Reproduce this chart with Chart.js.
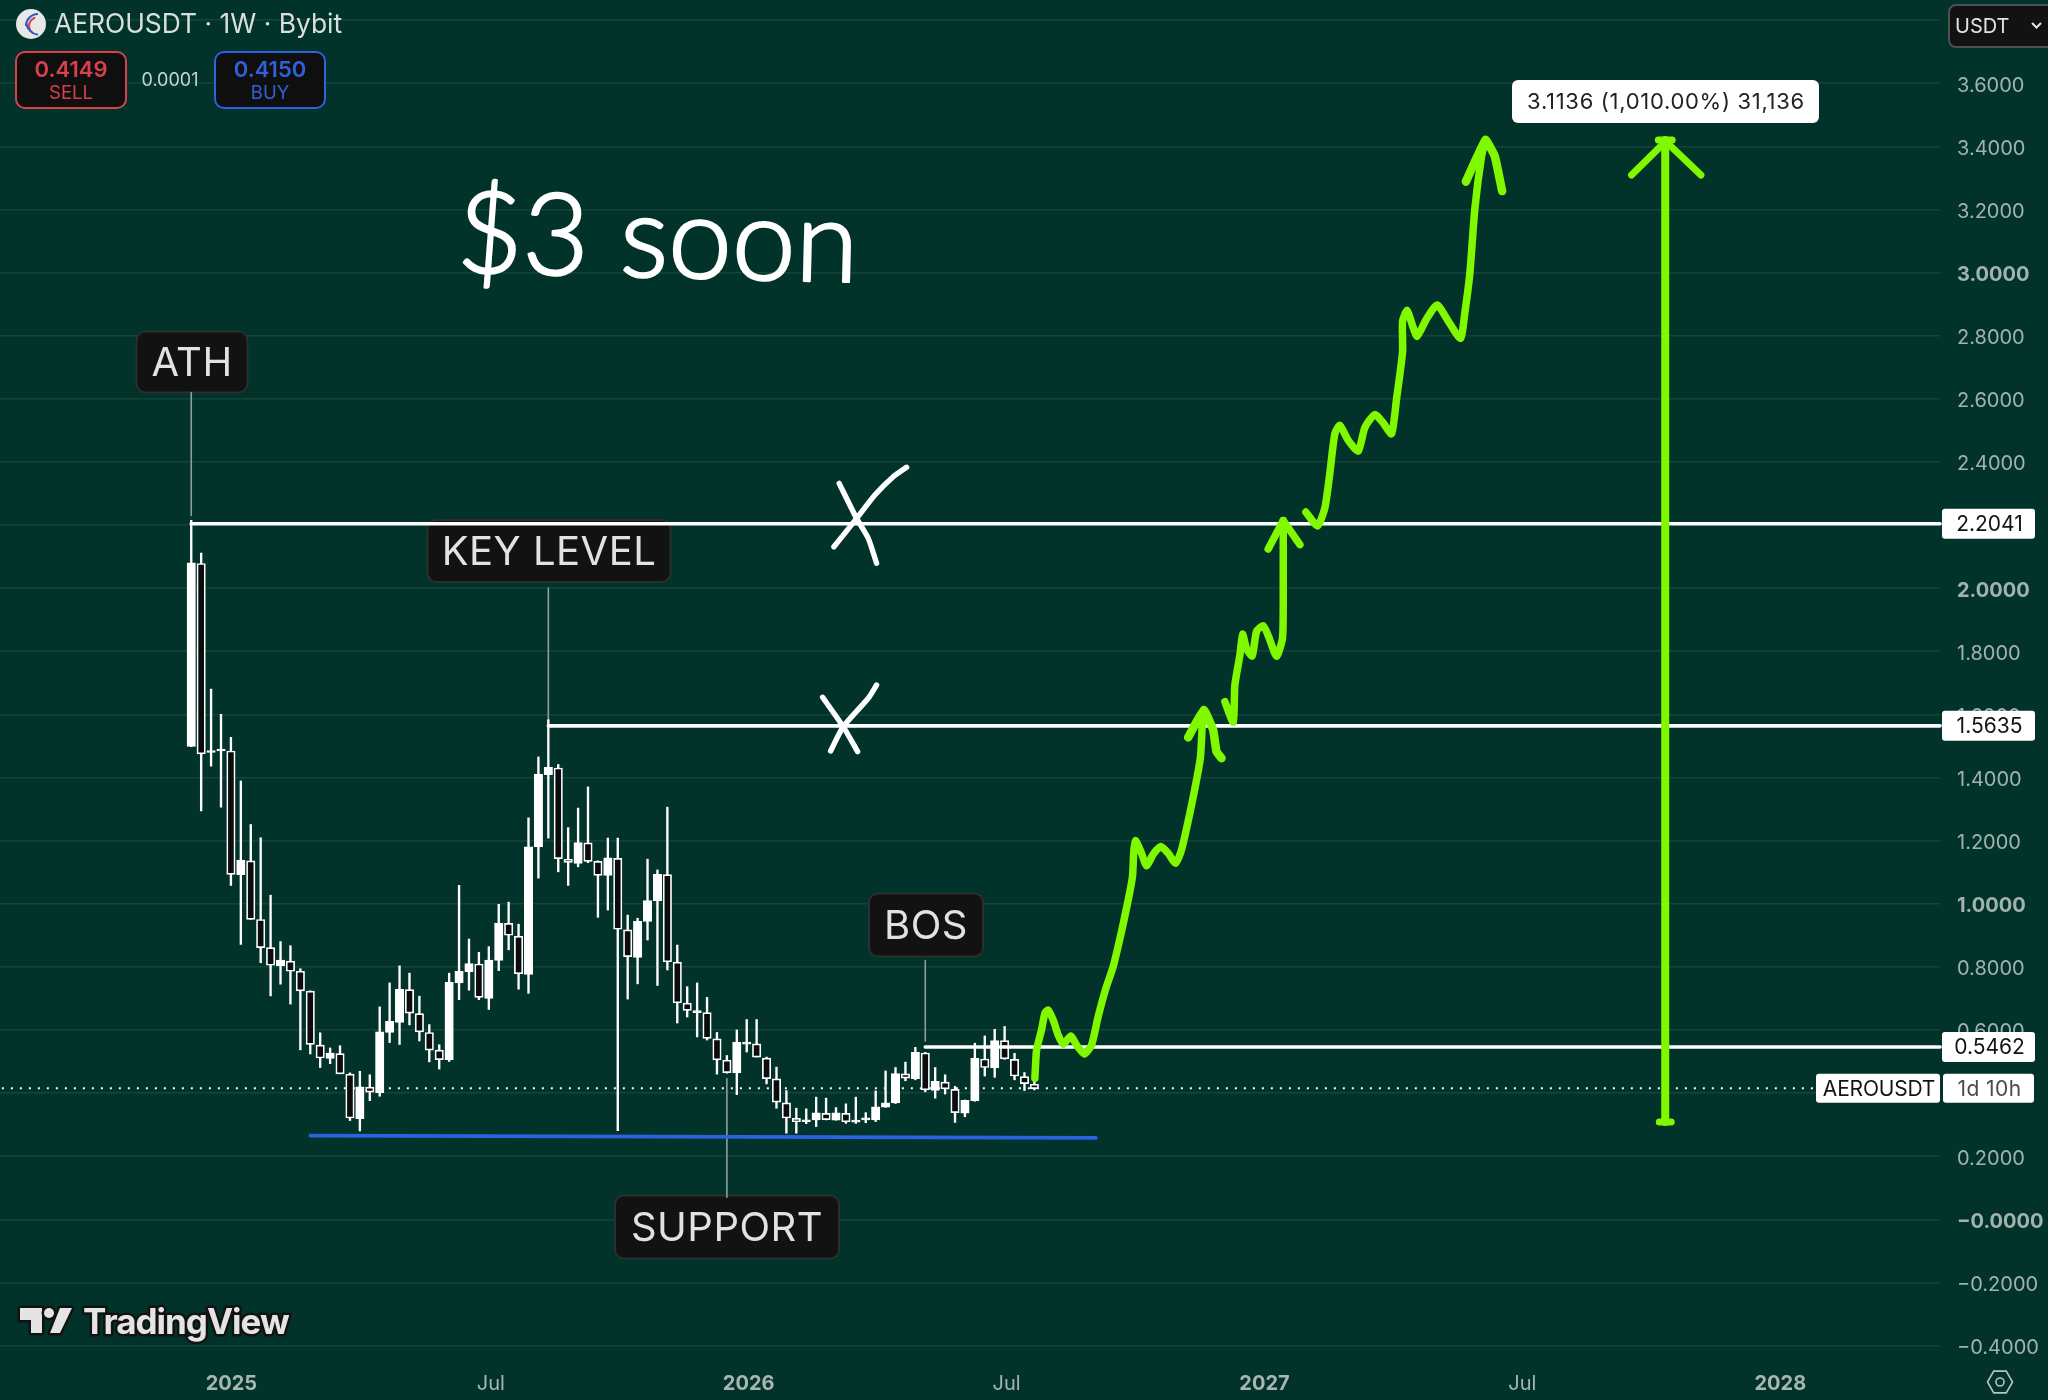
<!DOCTYPE html>
<html>
<head>
<meta charset="utf-8">
<title>AEROUSDT 1W</title>
<script src="https://cdn.jsdelivr.net/npm/chart.js@4"></script>
<style>
  html, body { margin: 0; padding: 0; background: #02332b; }
  #wrap { width: 2048px; height: 1400px; position: relative; }
</style>
</head>
<body>
<div id="wrap"><canvas id="chart"></canvas></div>
<script>
// weekly candles
const opens = [1.498,2.078,1.479,1.484,1.484,1.092,1.136,0.950,0.861,0.803,0.818,0.786,0.723,0.552,0.510,0.525,0.460,0.319,0.419,0.401,0.592,0.624,0.728,0.652,0.592,0.536,0.506,0.749,0.785,0.809,0.700,0.820,0.938,0.897,0.776,1.180,1.409,1.430,1.141,1.128,1.193,1.134,1.090,1.144,0.917,0.830,0.944,1.009,1.092,0.815,0.685,0.655,0.655,0.572,0.504,0.464,0.555,0.556,0.511,0.445,0.369,0.320,0.309,0.315,0.336,0.314,0.336,0.308,0.315,0.315,0.355,0.369,0.461,0.446,0.527,0.408,0.435,0.412,0.336,0.376,0.508,0.480,0.566,0.507,0.452,0.428];
const closes = [2.080,1.475,1.484,1.490,1.093,1.138,0.950,0.861,0.805,0.821,0.786,0.724,0.554,0.511,0.527,0.461,0.321,0.420,0.403,0.594,0.627,0.729,0.653,0.594,0.536,0.506,0.751,0.786,0.810,0.703,0.821,0.939,0.900,0.778,1.180,1.411,1.432,1.143,1.131,1.194,1.134,1.090,1.145,0.919,0.832,0.944,1.010,1.093,0.816,0.686,0.662,0.661,0.573,0.505,0.465,0.561,0.561,0.514,0.446,0.371,0.321,0.309,0.315,0.337,0.316,0.337,0.309,0.314,0.318,0.356,0.369,0.462,0.447,0.529,0.410,0.437,0.413,0.338,0.377,0.510,0.481,0.566,0.508,0.454,0.430,0.414];
const highs = [2.215,2.111,1.680,1.600,1.527,1.389,1.251,1.209,1.027,0.880,0.867,0.794,0.724,0.591,0.543,0.550,0.464,0.469,0.458,0.673,0.749,0.803,0.780,0.707,0.617,0.553,0.780,1.058,0.888,0.846,0.864,0.998,1.005,0.935,1.272,1.465,1.583,1.441,1.241,1.303,1.370,1.136,1.208,1.208,0.964,0.954,1.141,1.107,1.306,0.869,0.737,0.749,0.703,0.592,0.519,0.600,0.633,0.633,0.514,0.482,0.408,0.352,0.350,0.387,0.384,0.354,0.366,0.387,0.338,0.407,0.470,0.481,0.498,0.545,0.529,0.481,0.458,0.421,0.378,0.558,0.581,0.602,0.611,0.526,0.465,0.463];
const lows = [1.498,1.294,1.436,1.306,1.058,0.871,0.950,0.813,0.708,0.745,0.682,0.537,0.524,0.481,0.493,0.461,0.313,0.280,0.376,0.390,0.560,0.554,0.616,0.565,0.499,0.476,0.500,0.696,0.726,0.696,0.665,0.788,0.854,0.729,0.716,1.081,1.208,1.101,1.058,1.117,1.130,0.957,0.980,0.281,0.698,0.746,0.885,0.741,0.790,0.622,0.641,0.578,0.568,0.460,0.463,0.395,0.530,0.514,0.429,0.352,0.273,0.273,0.303,0.294,0.315,0.314,0.304,0.304,0.306,0.310,0.355,0.367,0.439,0.442,0.404,0.384,0.397,0.307,0.325,0.374,0.454,0.450,0.507,0.442,0.408,0.410];

const yTickValues = [3.8,3.6,3.4,3.2,3.0,2.8,2.6,2.4,2.2,2.0,1.8,1.6,1.4,1.2,1.0,0.8,0.6,0.4,0.2,0,-0.2,-0.4];
const yTickLabels = ['3.8000','3.6000','3.4000','3.2000','3.0000','2.8000','2.6000','2.4000','2.2000','2.0000','1.8000','1.6000','1.4000','1.2000','1.0000','0.8000','0.6000','0.4000','0.2000','\u22120.0000','\u22120.2000','\u22120.4000'];
const xTickWeeks = [4.05,30.2,56.2,82.2,108.2,134.2,160.2];
const xTickLabels = ['2025','Jul','2026','Jul','2027','Jul','2028'];

const keyLevels = [2.2041,1.5635,0.5462];
const keyLevelStarts = [0,36,74];
const lastPrice = 0.4149;

// support line, week / price
const supportLine = [[12,0.265],[91.2,0.258]];

// hand drawn green path, week / price
const pathOne = [[85.05,0.447],[85.22,0.536],[85.72,0.600],[86.06,0.653],[86.39,0.663],[86.90,0.631],[87.40,0.584],[87.90,0.555],[88.68,0.581],[89.25,0.552],[90.02,0.524],[90.76,0.552],[91.43,0.642],[92.21,0.732],[92.94,0.800],[93.78,0.911],[94.46,1.012],[94.89,1.086],[95.03,1.170],[95.23,1.200],[95.80,1.160],[96.31,1.120],[96.98,1.157],[97.75,1.181],[98.49,1.160],[99.23,1.128],[99.83,1.170],[100.67,1.286],[101.35,1.392],[101.75,1.466],[101.95,1.582],[102.08,1.614]];
const headOne = [[100.50,1.527],[102.08,1.614],[103.03,1.550],[103.36,1.482],[103.87,1.461]];
const pathTwo = [[104.21,1.640],[105.05,1.575],[105.21,1.692],[105.72,1.788],[105.99,1.854],[106.39,1.808],[106.96,1.785],[107.40,1.863],[108.07,1.881],[108.57,1.850],[109.41,1.784],[110.02,1.843],[110.09,2.035],[110.09,2.214]];
const headTwo = [[108.57,2.124],[110.09,2.214],[111.77,2.138]];
const pathThree = [[112.37,2.241],[113.55,2.197],[114.29,2.255],[114.79,2.365],[115.29,2.489],[115.80,2.516],[116.64,2.468],[117.65,2.434],[118.32,2.509],[119.33,2.550],[120.17,2.523],[121.01,2.489],[121.51,2.599],[122.12,2.750],[122.12,2.846],[122.59,2.880],[123.12,2.832],[123.59,2.798],[124.53,2.853],[125.61,2.897],[126.72,2.846],[127.96,2.791],[128.40,2.873],[128.90,2.997],[129.41,3.203],[130.08,3.368],[130.48,3.420]];
const headThree = [[128.50,3.288],[130.48,3.420],[131.42,3.368],[132.16,3.258]];
const targetArrow = [[148.6,0.308],[148.6,3.42]];
const targetHead = [[145.2,3.309],[148.3,3.405],[149.0,3.405],[152.2,3.309]];
const targetTop = [[147.9,3.42],[149.3,3.42]];
const targetBase = [[148.0,0.308],[149.2,0.308]];

// white crosses over the levels
const crossOneA = [[65.32,2.332],[67.08,2.221],[68.25,2.158],[69.09,2.079]];
const crossOneB = [[72.12,2.383],[70.77,2.353],[68.92,2.295],[67.08,2.221],[64.79,2.131]];
const crossTwoA = [[63.65,1.654],[65.73,1.561],[67.18,1.482]];
const crossTwoB = [[69.09,1.693],[68.25,1.651],[65.73,1.561],[64.46,1.484]];

// label leaders: week, from price, to price
const leaders = [[0,2.23,2.62],[36,1.575,2.0],[74,0.565,0.82],[54,0.445,0.07]];

const GREEN = '#80f800';
const FONT = 'Inter, "Noto Sans", sans-serif';

const toXY = pts => pts.map(p => ({ x: p[0], y: p[1] }));

function stroke(points, color, width, tension, order) {
  return {
    type: 'scatter', showLine: true, data: toXY(points),
    borderColor: color, backgroundColor: color, borderWidth: width,
    pointRadius: 0, pointHoverRadius: 0, tension: tension,
    borderCapStyle: 'round', borderJoinStyle: 'round', order: order, clip: false,
  };
}

const wicks = {
  type: 'bar', data: highs.map((h, i) => ({ x: i, y: [lows[i], h] })),
  backgroundColor: '#ffffff', borderWidth: 0, barThickness: 1.7, grouped: false, order: 5,
};
const bodies = {
  type: 'bar', data: opens.map((o, i) => ({ x: i, y: [o, closes[i]] })),
  backgroundColor: opens.map((o, i) => closes[i] >= o ? '#ffffff' : '#0c0c0c'),
  borderColor: '#ffffff', borderWidth: 1.7, borderSkipped: false,
  barThickness: 8.4, minBarLength: 2, grouped: false, order: 4,
};

const leaderSets = leaders.map(l => stroke([[l[0], l[1]], [l[0], l[2]]], '#8d9f9b', 1.6, 0, 6));
const levelSets = keyLevels.map((v, i) => stroke([[keyLevelStarts[i], v], [176.3, v]], '#ffffff', 3.6, 0, 3));
const lastLine = stroke([[-20, lastPrice], [176.3, lastPrice]], '#ffffff', 2, 0, 7);
lastLine.borderDash = [2, 7];
lastLine.borderCapStyle = 'butt';

function label(ctx, text, cx, cy, w, h) {
  ctx.fillStyle = '#121212';
  ctx.strokeStyle = '#2b2f2e';
  ctx.lineWidth = 2;
  ctx.beginPath();
  ctx.roundRect(cx - w / 2, cy - h / 2, w, h, 9);
  ctx.fill();
  ctx.stroke();
  ctx.fillStyle = '#e2e2e2';
  ctx.font = '40px ' + FONT;
  ctx.letterSpacing = '0.5px';
  ctx.textAlign = 'center';
  ctx.textBaseline = 'middle';
  ctx.fillText(text, cx, cy + 2);
  ctx.letterSpacing = '0px';
}

function tag(ctx, text, x, cy, w, h, color) {
  ctx.fillStyle = '#ffffff';
  ctx.beginPath();
  ctx.roundRect(x, cy - h / 2, w, h, 3);
  ctx.fill();
  ctx.fillStyle = color || '#131313';
  ctx.font = '21px ' + FONT;
  ctx.textAlign = 'center';
  ctx.textBaseline = 'middle';
  ctx.fillText(text, x + w / 2 + 1, cy + 1);
}

function quoteBox(ctx, x, color, price, side) {
  ctx.fillStyle = '#0f0f0f';
  ctx.strokeStyle = color;
  ctx.lineWidth = 2;
  ctx.beginPath();
  ctx.roundRect(x, 52, 110, 56, 9);
  ctx.fill();
  ctx.stroke();
  ctx.fillStyle = color;
  ctx.textAlign = 'center';
  ctx.textBaseline = 'middle';
  ctx.font = '600 22px ' + FONT;
  ctx.fillText(price, x + 55, 70);
  ctx.font = '18.5px ' + FONT;
  ctx.fillText(side, x + 55, 93);
}

const overlay = {
  id: 'overlay',
  beforeDatasetsDraw(chart) {
    const ctx = chart.ctx;
    ctx.save();
    // annotation labels sit under the level lines
    label(ctx, 'ATH', 192, 362, 111, 61);
    label(ctx, 'KEY LEVEL', 549, 551, 243, 62);
    label(ctx, 'BOS', 926, 925, 114, 63);
    label(ctx, 'SUPPORT', 727, 1227, 224, 63);
    ctx.restore();
  },
  afterDraw(chart) {
    const ctx = chart.ctx, y = chart.scales.y;
    ctx.save();

    // handwritten note
    ctx.save();
    ctx.translate(456, 272);
    ctx.rotate(0.025);
    ctx.fillStyle = '#ffffff';
    ctx.strokeStyle = '#ffffff';
    ctx.lineWidth = 2.5;
    ctx.lineJoin = 'round';
    ctx.font = '300 114px Lato, ' + FONT;
    ctx.textAlign = 'left';
    ctx.textBaseline = 'alphabetic';
    ctx.fillText('$3 soon', 0, 0);
    ctx.strokeText('$3 soon', 0, 0);
    ctx.restore();

    // price tags on the axis
    tag(ctx, '2.2041', 1942, y.getPixelForValue(keyLevels[0]), 93, 30);
    tag(ctx, '1.5635', 1942, y.getPixelForValue(keyLevels[1]), 93, 30);
    tag(ctx, '0.5462', 1942, y.getPixelForValue(keyLevels[2]), 93, 30);
    const py = y.getPixelForValue(lastPrice);
    ctx.save();
    ctx.letterSpacing = '-0.2px';
    tag(ctx, 'AEROUSDT', 1816, py, 124, 29);
    ctx.letterSpacing = '0.4px';
    tag(ctx, '1d 10h', 1943, py, 91, 29, '#4a4a4a');
    ctx.restore();

    // measure box
    ctx.fillStyle = '#ffffff';
    ctx.beginPath();
    ctx.roundRect(1512, 80, 307, 43, 6);
    ctx.fill();
    ctx.fillStyle = '#222222';
    ctx.font = '22px ' + FONT;
    ctx.letterSpacing = '0.7px';
    ctx.textAlign = 'center';
    ctx.textBaseline = 'middle';
    ctx.fillText('3.1136 (1,010.00%) 31,136', 1666, 102);
    ctx.letterSpacing = '0px';

    // header
    ctx.fillStyle = '#e6e8e6';
    ctx.beginPath();
    ctx.arc(31, 24, 15, 0, Math.PI * 2);
    ctx.fill();
    ctx.lineWidth = 2;
    ctx.strokeStyle = '#2a55c8';
    ctx.beginPath();
    ctx.arc(38, 26, 12, Math.PI * 1.0, Math.PI * 1.5);
    ctx.stroke();
    ctx.strokeStyle = '#d8404a';
    ctx.beginPath();
    ctx.arc(38, 26, 9, Math.PI * 0.7, Math.PI * 1.4);
    ctx.stroke();
    ctx.strokeStyle = '#2a55c8';
    ctx.beginPath();
    ctx.arc(40, 21, 14, Math.PI * 0.55, Math.PI * 0.95);
    ctx.stroke();

    ctx.fillStyle = '#d9dfdd';
    ctx.font = '26.4px ' + FONT;
    ctx.textAlign = 'left';
    ctx.textBaseline = 'middle';
    ctx.fillText('AEROUSDT \u00b7 1W \u00b7 Bybit', 54, 25);
    quoteBox(ctx, 16, '#d8414c', '0.4149', 'SELL');
    quoteBox(ctx, 215, '#3160dd', '0.4150', 'BUY');
    ctx.fillStyle = '#c9d3d0';
    ctx.font = '18px ' + FONT;
    ctx.textAlign = 'center';
    ctx.fillText('0.0001', 170, 81);

    // currency button
    ctx.fillStyle = '#121212';
    ctx.strokeStyle = '#4d5150';
    ctx.lineWidth = 2;
    ctx.beginPath();
    ctx.roundRect(1949, 5, 110, 42, 7);
    ctx.fill();
    ctx.stroke();
    ctx.fillStyle = '#e2e4e3';
    ctx.font = '20px ' + FONT;
    ctx.textAlign = 'left';
    ctx.fillText('USDT', 1955, 27);
    ctx.strokeStyle = '#e2e4e3';
    ctx.beginPath();
    ctx.moveTo(2032, 23);
    ctx.lineTo(2036.5, 27.5);
    ctx.lineTo(2041, 23);
    ctx.stroke();

    // settings hexagon
    ctx.strokeStyle = '#b7c3c0';
    ctx.lineWidth = 1.6;
    ctx.beginPath();
    for (let i = 0; i < 6; i++) {
      const a = i * Math.PI / 3;
      const hx = 2000 + 12.5 * Math.cos(a), hy = 1382 + 12.5 * Math.sin(a);
      if (i === 0) ctx.moveTo(hx, hy); else ctx.lineTo(hx, hy);
    }
    ctx.closePath();
    ctx.stroke();
    ctx.beginPath();
    ctx.arc(2000, 1382, 4, 0, Math.PI * 2);
    ctx.stroke();

    // TradingView logo
    ctx.lineJoin = 'round';
    ctx.strokeStyle = '#121212';
    ctx.fillStyle = '#e4e4e4';
    ctx.lineWidth = 5;
    ctx.beginPath();
    ctx.moveTo(20, 1308); ctx.lineTo(42, 1308); ctx.lineTo(42, 1333); ctx.lineTo(31, 1333); ctx.lineTo(31, 1320); ctx.lineTo(20, 1320); ctx.closePath();
    ctx.moveTo(50, 1333); ctx.lineTo(60, 1308); ctx.lineTo(72, 1308); ctx.lineTo(60, 1333); ctx.closePath();
    ctx.stroke();
    ctx.fill();
    ctx.beginPath();
    ctx.arc(49, 1313, 5, 0, Math.PI * 2);
    ctx.stroke();
    ctx.fill();
    ctx.font = '700 35px ' + FONT;
    ctx.textAlign = 'left';
    ctx.textBaseline = 'alphabetic';
    ctx.letterSpacing = '-1px';
    ctx.strokeText('TradingView', 83, 1334);
    ctx.fillText('TradingView', 83, 1334);
    ctx.restore();
  },
};

new Chart(document.getElementById('chart').getContext('2d'), {
  type: 'bar',
  data: {
    datasets: [
      wicks, bodies, lastLine, ...leaderSets, ...levelSets,
      stroke(supportLine, '#2b62e0', 3.6, 0, 3),
      stroke(crossOneA, '#ffffff', 5.4, 0.2, 2),
      stroke(crossOneB, '#ffffff', 5.4, 0.2, 2),
      stroke(crossTwoA, '#ffffff', 5.4, 0.2, 2),
      stroke(crossTwoB, '#ffffff', 5.4, 0.2, 2),
      stroke(pathOne, GREEN, 7.5, 0.2, 1),
      stroke(headOne, GREEN, 8.5, 0.1, 1),
      stroke(pathTwo, GREEN, 7.5, 0.2, 1),
      stroke(headTwo, GREEN, 7.5, 0, 1),
      stroke(pathThree, GREEN, 7.5, 0.2, 1),
      stroke(headThree, GREEN, 8.5, 0.1, 1),
      stroke(targetArrow, GREEN, 8, 0, 1),
      stroke(targetHead, GREEN, 7, 0, 1),
      stroke(targetTop, GREEN, 7, 0, 1),
      stroke(targetBase, GREEN, 7, 0, 1),
    ],
  },
  options: {
    responsive: true,
    maintainAspectRatio: false,
    animation: false,
    layout: { padding: 0 },
    plugins: { legend: { display: false }, tooltip: { enabled: false } },
    scales: {
      x: {
        type: 'linear', offset: false, min: -19.28, max: 176.3,
        afterFit: s => { s.height = 40; s.paddingLeft = 0; s.paddingRight = 0; },
        afterBuildTicks: s => { s.ticks = xTickWeeks.map(v => ({ value: v })); },
        grid: { display: false, drawTicks: false },
        border: { display: false },
        ticks: {
          autoSkip: false, maxRotation: 0, padding: 12, color: '#a7b6b2',
          font: c => ({ family: FONT, size: 20, weight: xTickLabels[c.index] === 'Jul' ? '400' : '700' }),
          callback: (v, i) => xTickLabels[i],
        },
      },
      y: {
        type: 'linear', position: 'right', min: -0.4458, max: 3.8635,
        afterFit: s => { s.width = 108; s.paddingTop = 0; s.paddingBottom = 0; },
        afterBuildTicks: s => { s.ticks = yTickValues.map(v => ({ value: v })); },
        grid: { color: '#144438', lineWidth: 1.5, drawTicks: false },
        border: { display: false },
        ticks: {
          autoSkip: false, padding: 17, labelOffset: 2.5, color: '#a2b3af',
          font: c => ({ family: FONT, size: 20, weight: yTickLabels[c.index] && /[0-3]\.0000/.test(yTickLabels[c.index]) ? '700' : '400' }),
          callback: (v, i) => yTickLabels[i],
        },
      },
    },
  },
  plugins: [overlay],
});
</script>
</body>
</html>
